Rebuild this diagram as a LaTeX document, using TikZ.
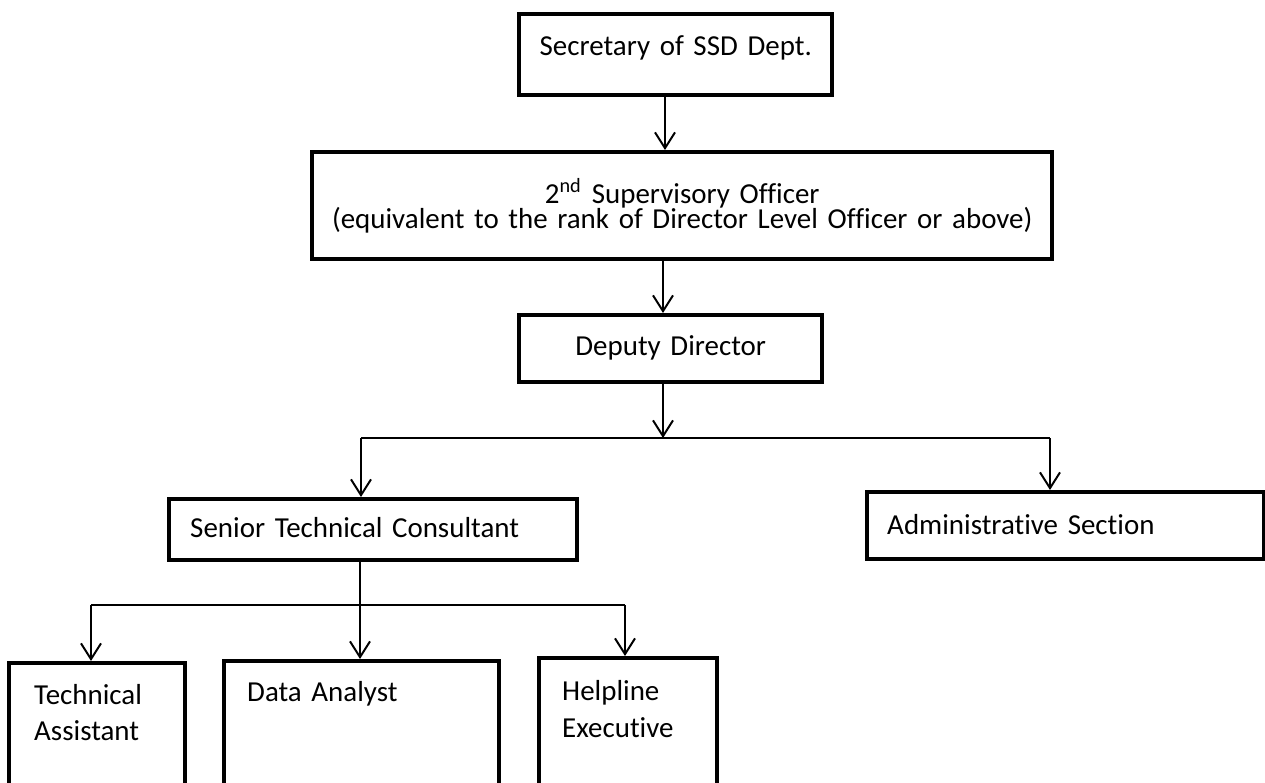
\documentclass[tikz,border=0pt]{standalone}
\usepackage{fontspec}
\setmainfont{Carlito}[Ligatures=NoCommon]
\usetikzlibrary{arrows.meta}
\tikzset{
  office/.style={draw,line width=1.7pt,anchor=north west,inner ysep=0pt,font=\fontsize{11}{13}\selectfont},
  lead/.style={execute at begin node={\baselineskip=#1\relax\lineskiplimit=-\maxdimen}},
  arr/.style={line width=0.75pt,-{Straight Barb[length=6pt,width=7.6pt]}},
  link/.style={line width=0.75pt}
}
\begin{document}
\begin{tikzpicture}[x=0.38pt,y=-0.38pt]
\useasboundingbox (0,0) rectangle (1265,783);
\node[office,align=center,inner xsep=1.9pt,text width=115.14pt,text height=15.58pt,text depth=15.2pt] (sec) at (517,12) {Secretary of SSD Dept.};
\node[office,align=center,lead=9.69pt,inner xsep=1.9pt,text width=277.4pt,text height=19.38pt,text depth=21.28pt] (sup) at (310,150)
  {2\textsuperscript{nd} Supervisory Officer\\(equivalent to the rank of Director Level Officer or above)};
\node[office,align=center,inner xsep=1.9pt,text width=111.34pt,text height=15.2pt,text depth=10.26pt] (dep) at (517,313) {Deputy Director};
\node[office,align=left,inner xsep=7.98pt,text width=139.08pt,text height=14.44pt,text depth=8.74pt] (stc) at (167,497) {Senior Technical Consultant};
\node[office,align=left,inner xsep=7.6pt,text width=135.66pt,text height=15.96pt,text depth=9.5pt] (adm) at (865,490) {Administrative Section};
\node[office,align=left,lead=13.68pt,inner xsep=9.5pt,text width=47.88pt,text height=15.58pt,text depth=37.24pt] (ta) at (7,661) {Technical\\Assistant};
\node[office,align=left,inner xsep=8.74pt,text width=87.02pt,text height=15.2pt,text depth=38.38pt] (da) at (222,659) {Data Analyst};
\node[office,align=left,lead=14.06pt,inner xsep=8.74pt,text width=50.16pt,text height=15.96pt,text depth=38.76pt] (he) at (537,656) {Helpline\\Executive};

\coordinate (c1) at (665,0);
\coordinate (c2) at (663,0);
\coordinate (b0) at (663,438);
\coordinate (bl) at (361,438);
\coordinate (br) at (1050,438);
\coordinate (c3) at (360,0);
\coordinate (ll) at (91,605);
\coordinate (lr) at (625,605);

\draw[arr] (sec.south -| c1) -- (sup.north -| c1);
\draw[arr] (sup.south -| c2) -- (dep.north -| c2);
\draw[arr] (dep.south -| b0) -- (b0);
\draw[link] (bl) -- (br);
\draw[arr] (bl) -- (bl |- stc.north);
\draw[arr] (br) -- (br |- adm.north);
\draw[arr] (stc.south -| c3) -- (da.north -| c3);
\draw[link] (ll) -- (lr);
\draw[arr] (ll) -- (ll |- ta.north);
\draw[arr] (lr) -- (lr |- he.north);
\end{tikzpicture}
\end{document}
